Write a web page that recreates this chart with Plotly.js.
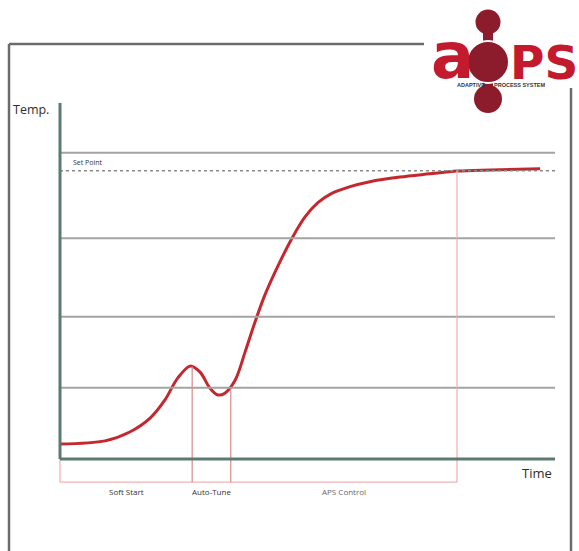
<!DOCTYPE html>
<html>
<head>
<meta charset="utf-8">
<script src="https://cdn.plot.ly/plotly-3.0.1.min.js"></script>
<style>html,body{margin:0;padding:0;background:#fff;}#chart{width:579px;height:551px;}</style>
</head>
<body>
<div id="chart"></div>
<script>
// ---- data ----
var timeVals = [0, 9.1, 14.1, 18.2, 21.2, 23.8, 26.3, 28.3, 30.3, 31.9, 33.3, 35.4, 37.4, 39.4, 41.4, 44.4, 46.9, 49.5, 52.1, 54.9, 58.6, 62.6, 68.7, 74.7, 80.2, 86.9, 97];
var tempVals = [4.2, 5.1, 7.6, 11.5, 16.6, 22.8, 26.1, 24.4, 19.9, 18.0, 18.5, 22.2, 30.1, 38.5, 46.1, 55.3, 62.1, 68.0, 72.0, 74.6, 76.5, 77.9, 79.2, 80.1, 80.9, 81.2, 81.5];
var gridLevels = [20, 40, 62, 86];
var setPoint = 81;
var phaseBounds = [0, 26.7, 34.5, 80.2];
var phaseTops = [0, 26, 19.6, 81];
var phaseLabels = ["Soft Start", "Auto-Tune", "APS Control"];
var bracketBottom = -6.5;
var timeMax = 100, tempMax = 100;

// ---- helpers (pixel -> paper for decorations) ----
var W = 579, H = 551;
function px(x){ return x / W; }
function py(y){ return 1 - y / H; }

var shapes = [];
gridLevels.forEach(function(g){
  shapes.push({type:'line', xref:'x', yref:'y', x0:0, x1:timeMax, y0:g, y1:g,
    line:{color:'#a3a3a3', width:2}});
});
shapes.push({type:'line', xref:'x', yref:'y', x0:0, x1:timeMax, y0:setPoint, y1:setPoint,
  line:{color:'#8a8a8a', width:1.5, dash:'3px,3px'}});
shapes.push({type:'line', xref:'x', yref:'y', x0:phaseBounds[0], x1:phaseBounds[phaseBounds.length-1],
  y0:bracketBottom, y1:bracketBottom, line:{color:'#f0b4b4', width:1.2}});
phaseBounds.forEach(function(b, i){
  shapes.push({type:'line', xref:'x', yref:'y', x0:b, x1:b, y0:bracketBottom, y1:phaseTops[i],
    line:{color:(i===1||i===2)?'#d98a8a':'#efb0b0', width:1.2}});
});
shapes.push({type:'line', xref:'x', yref:'y', x0:0, x1:0, y0:0, y1:tempMax, line:{color:'#5d7a72', width:3}});
shapes.push({type:'line', xref:'x', yref:'y', x0:0, x1:timeMax, y0:0, y1:0, line:{color:'#5d7a72', width:3}});

// outer frame
var frameCol = '#6b6b6b';
shapes.push({type:'line', xref:'paper', yref:'paper', x0:px(9), x1:px(424), y0:py(44), y1:py(44), line:{color:frameCol, width:2.5}});
shapes.push({type:'line', xref:'paper', yref:'paper', x0:px(9), x1:px(9), y0:py(44), y1:py(560), line:{color:frameCol, width:2.5}});
shapes.push({type:'line', xref:'paper', yref:'paper', x0:px(571), x1:px(571), y0:py(88), y1:py(560), line:{color:frameCol, width:2.5}});

// logo circles
var dark = '#8c1c2c';
function circ(cx, cy, r, col, lw, lc){
  shapes.push({type:'circle', xref:'paper', yref:'paper', x0:px(cx-r), x1:px(cx+r), y0:py(cy+r), y1:py(cy-r),
    fillcolor:col, line:{color:lc||col, width:lw||0}, layer:'above'});
}
shapes.push({type:'rect', xref:'paper', yref:'paper', x0:px(483), x1:px(493), y0:py(100), y1:py(22),
  fillcolor:dark, line:{width:0}, layer:'above'});
circ(488, 22, 12.5, dark);
circ(488, 99, 14, dark);

var annotations = [];
annotations.push({xref:'paper', yref:'paper', x:px(452), y:py(56), text:'<b>a</b>', showarrow:false,
  font:{family:'DejaVu Sans', size:64, color:'#c41a2e'}, xanchor:'center', yanchor:'middle'});
annotations.push({xref:'paper', yref:'paper', x:px(544), y:py(62), text:'<b>PS</b>', showarrow:false,
  font:{family:'DejaVu Sans', size:47, color:'#c41a2e'}, xanchor:'center', yanchor:'middle'});
annotations.push({xref:'paper', yref:'paper', x:px(471), y:py(85), text:'<b>ADAPTIVE</b>', showarrow:false,
  font:{family:'Liberation Sans Narrow, Liberation Sans', size:5.5, color:'#333'}, xanchor:'center', yanchor:'middle'});
annotations.push({xref:'paper', yref:'paper', x:px(519), y:py(85), text:'<b>PROCESS SYSTEM</b>', showarrow:false,
  font:{family:'Liberation Sans Narrow, Liberation Sans', size:5.5, color:'#333'}, xanchor:'center', yanchor:'middle'});

// chart labels
annotations.push({xref:'x', yref:'y', x:-5.9, y:98.3, text:'Temp.', showarrow:false,
  font:{family:'Open Sans', size:12.5, color:'#2e2e2e'}, xanchor:'center', yanchor:'middle'});
annotations.push({xref:'x', yref:'y', x:96.3, y:-3.9, text:'Time', showarrow:false,
  font:{family:'Open Sans', size:13, color:'#2e2e2e'}, xanchor:'center', yanchor:'middle'});
annotations.push({xref:'x', yref:'y', x:2.3, y:setPoint + 2.4, text:'Set Point', showarrow:false,
  font:{family:'Open Sans', size:7, color:'#333'}, xanchor:'left', yanchor:'middle'});
phaseLabels.forEach(function(lbl, i){
  annotations.push({xref:'x', yref:'y', x:(phaseBounds[i] + phaseBounds[i+1]) / 2, y:bracketBottom - 2.6,
    text:lbl, showarrow:false, font:{family:'Open Sans', size:8, color: i===2 ? '#666' : '#333'},
    xanchor:'center', yanchor:'middle'});
});

var trace = {
  x: timeVals, y: tempVals, type:'scatter', mode:'lines',
  line:{color:'#c4282e', width:3, shape:'spline', smoothing:0.9},
  hoverinfo:'skip'
};

var layout = {
  width: W, height: H,
  margin:{l:0, r:0, t:0, b:0},
  paper_bgcolor:'#fff', plot_bgcolor:'#fff',
  showlegend:false,
  xaxis:{range:[-12, timeMax], domain:[0.6/W, 555/W], visible:false, fixedrange:true},
  yaxis:{range:[-11.5, tempMax], domain:[1-500/H, 1-103/H], visible:false, fixedrange:true},
  shapes: shapes,
  annotations: annotations
};

Plotly.newPlot('chart', [trace], layout, {displayModeBar:false, staticPlot:true}).then(function(){
  var s = layout.shapes.slice();
  s.push({type:'circle', xref:'paper', yref:'paper', x0:px(467), x1:px(509), y0:py(83), y1:py(41),
    fillcolor:dark, line:{color:'#fff', width:2}, layer:'above'});
  Plotly.relayout('chart', {shapes:s});
});
</script>
</body>
</html>
